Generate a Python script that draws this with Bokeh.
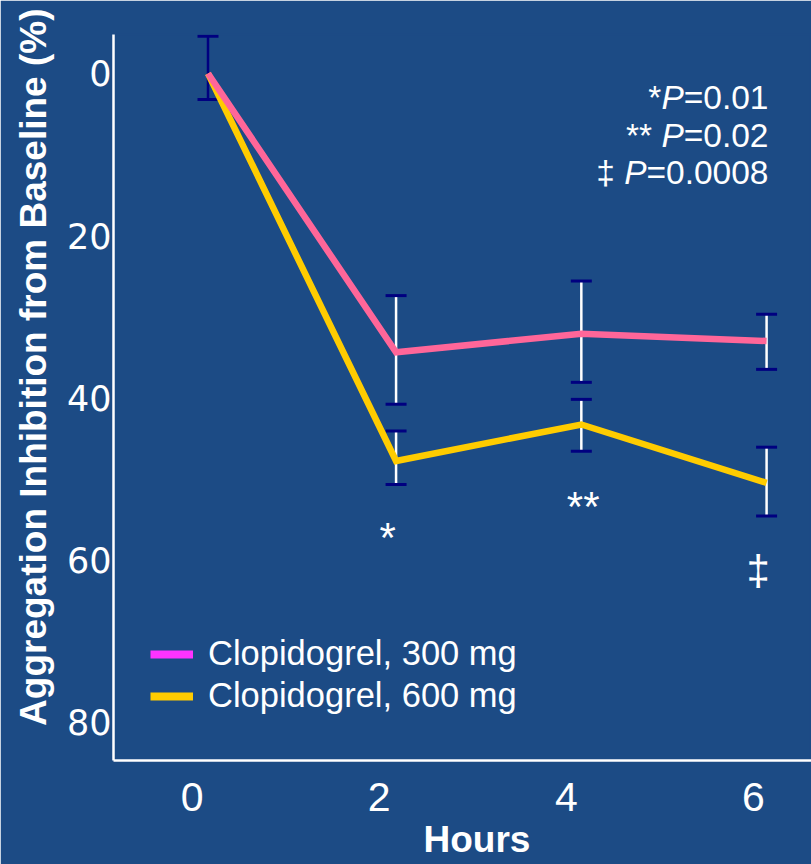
import math
from bokeh.plotting import figure
from bokeh.models import (Range1d, Whisker, TeeHead, ColumnDataSource, Label,
                          Legend, LegendItem, FixedTicker, Title)
from bokeh.core.properties import value
from bokeh.embed import file_html
from bokeh.resources import INLINE

# ---------------- data ----------------
hours = [0.17, 2.18, 4.16, 6.14]
mg300 = [0.0, 34.4, 32.1, 33.0]
mg600 = [0.0, 47.8, 43.3, 50.5]

# error bars (lower / upper ends)
base_x = [0.17]
base_low = [-4.6]
base_high = [3.2]
mg300_low = [27.4, 25.6, 29.7]
mg300_high = [40.8, 38.1, 36.5]
mg600_low = [44.1, 40.2, 46.1]
mg600_high = [50.7, 46.6, 54.6]
err_hours = [2.18, 4.16, 6.14]

x_ticks = [0, 2, 4, 6]
y_ticks = [0, 20, 40, 60, 80]

sig_x = [2.09, 4.18, 6.05]
sig_y = [57.2, 53.4, 61.3]
sig_text = ["*", "**", "\u2021"]

pvals = [("*", "=0.01"), ("** ", "=0.02"), ("\u2021 ", "=0.0008")]

series_labels = ["Clopidogrel, 300 mg", "Clopidogrel, 600 mg"]
x_title = "Hours"
y_title = "Aggregation Inhibition from Baseline (%)"

# ---------------- style ----------------
BG = "#1c4b85"
PINK = "#ff6699"
YELLOW = "#ffcc00"
MAGENTA = "#ff33ff"
NAVY = "#000080"
SANS = "Liberation Sans"
NAN = float("nan")

p = figure(width=811, height=864,
           x_range=Range1d(-0.84, 6.62), y_range=Range1d(84.75, -4.81),
           output_backend="svg", toolbar_location=None,
           background_fill_color=BG, border_fill_color=BG,
           outline_line_color=BG, outline_line_width=2,
           min_border_left=113, min_border_right=0,
           min_border_top=34, min_border_bottom=104)
p.grid.visible = False

for ax in (p.xaxis[0], p.yaxis[0]):
    ax.axis_line_color = "white"
    ax.axis_line_width = 2.5
    ax.major_tick_line_color = None
    ax.minor_tick_line_color = None
    ax.major_label_text_color = "white"

p.xaxis.ticker = FixedTicker(ticks=x_ticks)
p.xaxis.major_label_text_font = SANS
p.xaxis.major_label_text_font_size = "41px"
p.xaxis.major_label_standoff = 16

p.yaxis.ticker = FixedTicker(ticks=y_ticks)
p.yaxis.major_label_text_font = "DejaVu Sans"
p.yaxis.major_label_text_font_size = "35px"
p.yaxis.major_label_standoff = -4

# axis titles as side-panel titles (positioned off-centre like the original)
p.add_layout(Title(text=x_title, align="left", offset=310, text_color="white",
                   text_font=SANS, text_font_style="bold", text_font_size="37px",
                   standoff=6), "below")
p.add_layout(Title(text=y_title, align="right", offset=-26, text_color="white",
                   text_font=SANS, text_font_style="bold", text_font_size="37px",
                   standoff=20), "left")

# error bars
src0 = ColumnDataSource(dict(x=base_x, lo=base_low, hi=base_high))
p.add_layout(Whisker(source=src0, base="x", lower="lo", upper="hi",
                     line_color=NAVY, line_width=2.5,
                     upper_head=TeeHead(size=21, line_color=NAVY, line_width=3),
                     lower_head=TeeHead(size=21, line_color=NAVY, line_width=3)))
for lo, hi in ((mg300_low, mg300_high), (mg600_low, mg600_high)):
    s = ColumnDataSource(dict(x=err_hours, lo=lo, hi=hi))
    p.add_layout(Whisker(source=s, base="x", lower="lo", upper="hi",
                         line_color="white", line_width=2.5,
                         upper_head=TeeHead(size=21, line_color=NAVY, line_width=3),
                         lower_head=TeeHead(size=21, line_color=NAVY, line_width=3)))

# series lines
p.line(hours, mg600, line_color=YELLOW, line_width=6.5, line_join="miter")
p.line(hours, mg300, line_color=PINK, line_width=6.5, line_join="miter")

# legend (swatch colours differ from line colours in the original)
r1 = p.line(x=[NAN, NAN], y=[NAN, NAN], line_color=MAGENTA, line_width=8)
r2 = p.line(x=[NAN, NAN], y=[NAN, NAN], line_color=YELLOW, line_width=8)
legend = Legend(items=[LegendItem(label=series_labels[0], renderers=[r1]),
                       LegendItem(label=series_labels[1], renderers=[r2])],
                location=(37, 45), background_fill_alpha=0, border_line_color=None,
                label_text_color="white", label_text_font_size="34.5px",
                label_text_font=SANS, glyph_width=43, glyph_height=38,
                label_height=38, spacing=3, padding=0, margin=0, label_standoff=15)
p.add_layout(legend)

# significance markers
p.text(x=sig_x, y=sig_y, text=sig_text, text_color="white",
       text_font=value(SANS), text_font_size="42px",
       text_align="center", text_baseline="alphabetic")

# p-value block (right aligned, italic P)
AW = {'0': .556, '1': .556, '2': .556, '8': .556, '=': .584, '.': .278,
      '*': .389, ' ': .278, '\u2021': .556, 'P': .667}
FS = 33.5
right_x = 655
base_ys = [663, 625, 588]
for (pre, suf), by in zip(pvals, base_ys):
    wsuf = sum(AW[c] for c in suf) * FS
    wp = AW['P'] * FS
    p.add_layout(Label(x=right_x, y=by, x_units="screen", y_units="screen",
                       text=suf, text_color="white", text_font=SANS,
                       text_font_size=f"{FS}px", text_align="right",
                       text_baseline="alphabetic"))
    p.add_layout(Label(x=right_x - wsuf, y=by, x_units="screen", y_units="screen",
                       text="P", text_color="white", text_font=SANS,
                       text_font_style="italic",
                       text_font_size=f"{FS}px", text_align="right",
                       text_baseline="alphabetic"))
    p.add_layout(Label(x=right_x - wsuf - wp, y=by, x_units="screen", y_units="screen",
                       text=pre, text_color="white", text_font=SANS,
                       text_font_size=f"{FS}px", text_align="right",
                       text_baseline="alphabetic"))

open("out.html", "w").write(file_html(p, INLINE))
